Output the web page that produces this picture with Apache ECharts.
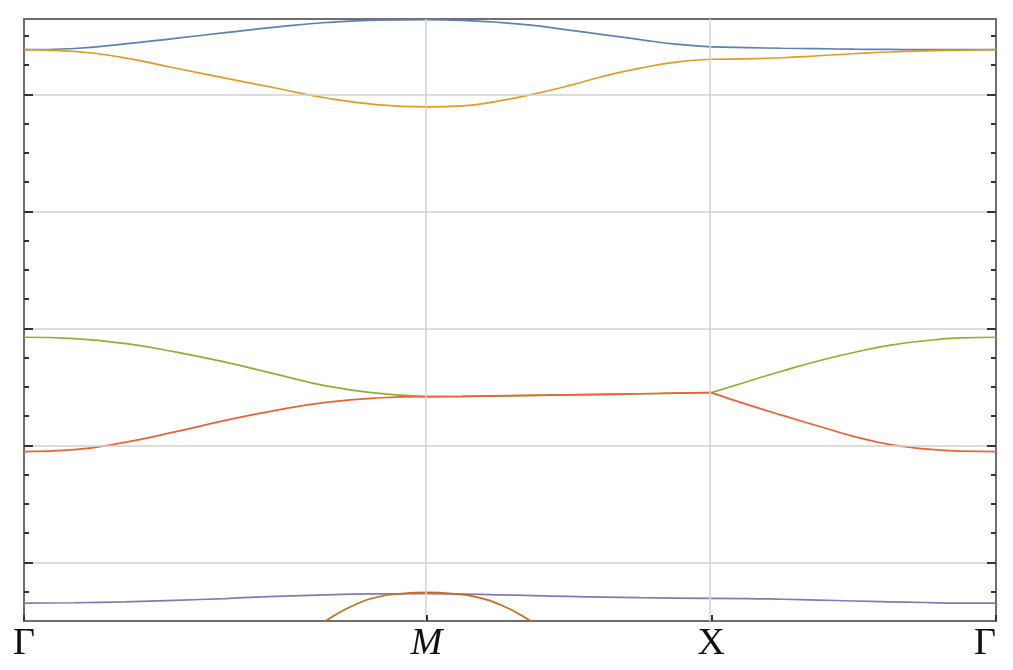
<!DOCTYPE html>
<html>
<head>
<meta charset="utf-8">
<title>Band structure</title>
<script src="https://cdn.jsdelivr.net/npm/echarts@6/dist/echarts.min.js"></script>
<style>
  html, body { margin: 0; padding: 0; background: #fff; }
  #chart { width: 1013px; height: 670px; }
</style>
</head>
<body>
<div id="chart"></div>
<script>
// k path G -> M -> X -> G  (|GM| = sqrt2, |MX| = |XG| = 1)
const kPath = [
  0, 0.1768, 0.3536, 0.5303, 0.7071, 0.8839, 1.0607, 1.2374, 1.4142,
  1.5392, 1.6642, 1.7892, 1.9142, 2.0392, 2.1642, 2.2892, 2.4142,
  2.5392, 2.6642, 2.7892, 2.9142, 3.0392, 3.1642, 3.2892, 3.4142
]
const kTicks = [0, 1.4142, 2.4142, 3.4142]
const kLabels = ['Γ', 'M', 'X', 'Γ']

// energies (arbitrary units, grid every 1)
const band1 = [
  4.383, 4.393, 4.432, 4.480, 4.528, 4.576, 4.615, 4.636, 4.640,
  4.633, 4.617, 4.590, 4.550, 4.510, 4.469, 4.430, 4.406,
  4.400, 4.395, 4.391, 4.387, 4.385, 4.383, 4.383, 4.383
]
const band2 = [
  4.383, 4.368, 4.313, 4.226, 4.140, 4.055, 3.970, 3.914, 3.894,
  3.902, 3.943, 4.003, 4.075, 4.158, 4.225, 4.276, 4.301,
  4.305, 4.314, 4.331, 4.348, 4.363, 4.373, 4.378, 4.383
]
const band3 = [
  1.925, 1.913, 1.872, 1.800, 1.712, 1.610, 1.510, 1.448, 1.418,
  1.420, 1.424, 1.428, 1.432, 1.437, 1.442, 1.447, 1.452,
  1.545, 1.637, 1.722, 1.795, 1.855, 1.895, 1.919, 1.925
]
const band4 = [
  0.948, 0.965, 1.026, 1.116, 1.214, 1.300, 1.368, 1.406, 1.418,
  1.420, 1.424, 1.428, 1.432, 1.437, 1.442, 1.447, 1.452,
  1.351, 1.257, 1.167, 1.078, 1.009, 0.971, 0.952, 0.948
]
const band5 = [
  -0.348, -0.344, -0.336, -0.323, -0.308, -0.289, -0.276, -0.269, -0.267,
  -0.270, -0.276, -0.283, -0.290, -0.296, -0.301, -0.304, -0.306,
  -0.308, -0.314, -0.321, -0.329, -0.336, -0.342, -0.347, -0.348
]
// lowest band only shows up around M
const kArc = [0.9751, 1.0630, 1.1508, 1.2386, 1.3264, 1.4142, 1.5020, 1.5898, 1.6776, 1.7654, 1.8533]
const band6 = [-0.635, -0.494, -0.374, -0.297, -0.266, -0.256, -0.266, -0.296, -0.366, -0.478, -0.620]

const gridY = [0, 1, 2, 3, 4]
const gridX = [1.4142, 2.4142]

const yMin = -0.5
const yMax = 4.645

// minor ticks every 0.25, major ones on the grid lines
const minorTicks = []
for (let v = -0.25; v < yMax; v += 0.25) {
  if (Math.abs(v - Math.round(v)) > 0.01) minorTicks.push(+v.toFixed(2))
}

function pairs(ks, vs) {
  return ks.map((k, i) => [k, vs[i]])
}

// each band is drawn per path segment so the kinks at M and X stay sharp
const segments = [[0, 9], [8, 17], [16, 25]]

const bands = [
  { values: band1, color: '#5E81B5' },
  { values: band2, color: '#E19C24' },
  { values: band3, color: '#8FB032' },
  { values: band4, color: '#EB6235' },
  { values: band5, color: '#8778B3' }
]

function yAxisDef(pos, ticks, len) {
  return {
    type: 'value',
    position: pos,
    min: yMin,
    max: yMax,
    z: 5,
    axisLine: { show: false, onZero: false },
    splitLine: { show: false },
    axisLabel: { show: false },
    axisTick: {
      show: true,
      inside: true,
      length: len,
      customValues: ticks,
      lineStyle: { color: '#333', width: 2 }
    }
  }
}

function lineSeries(data, color) {
  return {
    type: 'line',
    data: data,
    smooth: 0.5,
    showSymbol: false,
    clip: true,
    z: 3,
    lineStyle: { color: color, width: 1.7 }
  }
}

const chart = echarts.init(document.getElementById('chart'))

const series = [
  {
    type: 'line',
    data: [],
    z: 1,
    silent: true,
    markLine: {
      silent: true,
      symbol: 'none',
      label: { show: false },
      lineStyle: { color: '#d2d2d2', width: 1.5, type: 'solid' },
      data: gridY.map(v => ({ yAxis: v })).concat(gridX.map(k => ({ xAxis: k })))
    }
  }
]
bands.forEach(b => {
  segments.forEach(s => {
    series.push(lineSeries(pairs(kPath.slice(s[0], s[1]), b.values.slice(s[0], s[1])), b.color))
  })
})
series.push(lineSeries(pairs(kArc, band6), '#C56E1A'))

chart.setOption({
  animation: false,
  backgroundColor: '#fff',
  grid: {
    left: 24,
    right: 17,
    top: 19,
    bottom: 49,
    show: true,
    borderColor: '#6e6e6e',
    borderWidth: 2
  },
  xAxis: {
    type: 'value',
    min: 0,
    max: 3.4142,
    z: 5,
    axisLine: { show: false, onZero: false },
    splitLine: { show: false },
    axisTick: {
      show: true,
      inside: true,
      length: 6,
      customValues: kTicks,
      lineStyle: { color: '#333', width: 2 }
    },
    axisLabel: {
      show: true,
      customValues: kTicks,
      margin: 4,
      alignMaxLabel: 'right',
      fontFamily: 'Liberation Serif',
      fontSize: 38,
      color: '#111',
      formatter: function(v) {
        const i = kTicks.findIndex(t => Math.abs(t - v) < 1e-3)
        const s = kLabels[i]
        return s === 'M' ? '{it|M}' : s
      },
      rich: {
        it: { fontFamily: 'Liberation Serif', fontSize: 38, fontStyle: 'italic', color: '#111' }
      }
    }
  },
  yAxis: [
    yAxisDef('left', minorTicks, 5),
    yAxisDef('right', minorTicks, 5),
    yAxisDef('left', gridY, 9),
    yAxisDef('right', gridY, 9)
  ],
  series: series
})
</script>
</body>
</html>
